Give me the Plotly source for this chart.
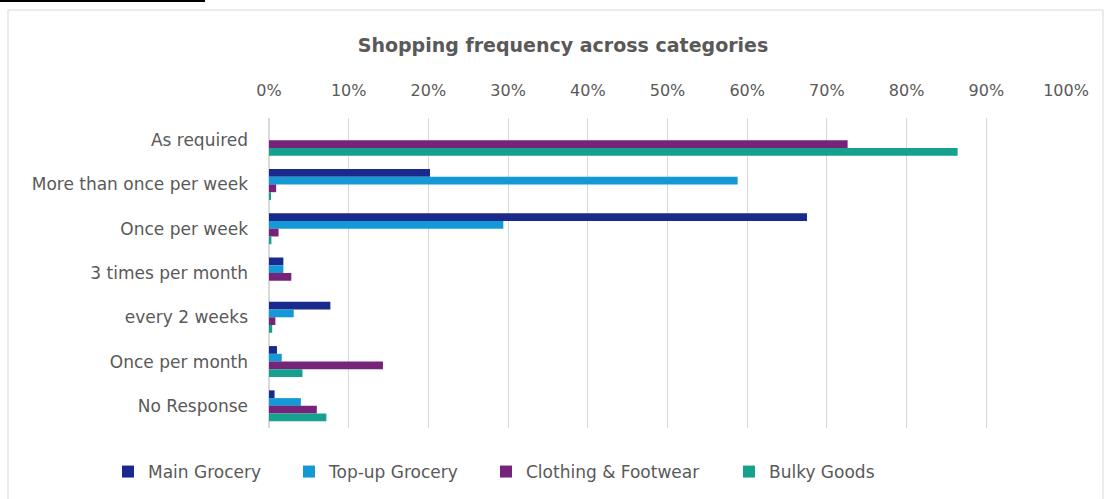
import plotly.graph_objects as go

categories = ["As required", "More than once per week", "Once per week", "3 times per month",
              "every 2 weeks", "Once per month", "No Response"]
series_names = ["Main Grocery", "Top-up Grocery", "Clothing & Footwear", "Bulky Goods"]
main_grocery = [0.0, 20.2, 67.5, 1.8, 7.7, 1.0, 0.7]
topup_grocery = [0.0, 58.8, 29.4, 1.8, 3.1, 1.6, 4.0]
clothing_footwear = [72.6, 0.9, 1.2, 2.8, 0.8, 14.3, 6.0]
bulky_goods = [86.4, 0.2, 0.3, 0.0, 0.4, 4.2, 7.2]
tick_vals = [0, 10, 20, 30, 40, 50, 60, 70, 80, 90, 100]
tick_text = [f"{v}%" for v in tick_vals]

colors = ["#1a2a8c", "#1499d6", "#76237a", "#16a08e"]
series = [main_grocery, topup_grocery, clothing_footwear, bulky_goods]
legend_ids = ["legend", "legend2", "legend3", "legend4"]
legend_left_px = [108, 289, 486, 729]

fig = go.Figure()
for name, vals, col, lg in zip(series_names, series, colors, legend_ids):
    fig.add_trace(go.Bar(
        y=categories, x=vals, name=name, orientation="h", legend=lg,
        marker=dict(color=col, line=dict(width=0)),
    ))

W, H = 1107, 499
L, R, T, B = 269, 41, 118, 71
pw, ph = W - L - R, H - T - B

def px_x(x):
    return (x - L) / pw

def px_y(y):
    return 1 - (y - T) / ph

FONT = "DejaVu Sans, sans-serif"
legends = {}
for lg, lx in zip(legend_ids, legend_left_px):
    legends[lg] = dict(orientation="h", x=px_x(lx), xanchor="left",
                       y=px_y(472), yanchor="middle", borderwidth=0,
                       bgcolor="rgba(0,0,0,0)",
                       font=dict(size=17, color="#595959"), itemwidth=30)

fig.update_layout(
    width=W, height=H,
    margin=dict(l=L, r=R, t=T, b=B, autoexpand=False),
    barmode="group", bargap=0.3, bargroupgap=0,
    paper_bgcolor="white", plot_bgcolor="white",
    font=dict(family=FONT, size=16, color="#595959"),
    title=dict(text="<b>Shopping frequency across categories</b>",
               x=563 / W, xanchor="center", y=1 - 45 / H, yanchor="middle",
               font=dict(size=19, color="#595959", family=FONT)),
    xaxis=dict(side="top", range=[0, 100], tickvals=tick_vals, ticktext=tick_text,
               showgrid=True, gridcolor="#d9d9d9", gridwidth=1, tickangle=0,
               zeroline=True, zerolinecolor="#d9d9d9", showline=False, automargin=False,
               ticklabelstandoff=18, tickfont=dict(size=16, color="#595959")),
    yaxis=dict(autorange="reversed", showgrid=False, showline=False, zeroline=False,
               automargin=False,
               ticklabelstandoff=20, tickfont=dict(size=17, color="#595959")),
    showlegend=True,
    **legends,
)

fig.add_shape(type="rect", xref="paper", yref="paper",
              x0=px_x(8), x1=px_x(1103), y0=px_y(505), y1=px_y(10),
              line=dict(color="#d9d9d9", width=1), fillcolor="rgba(0,0,0,0)", layer="below")
fig.add_shape(type="line", xref="paper", yref="paper",
              x0=px_x(0), x1=px_x(205), y0=px_y(1), y1=px_y(1),
              line=dict(color="black", width=2))

fig.write_html("out.html", config={"displayModeBar": False},
               post_script="document.body.style.margin='0';")
